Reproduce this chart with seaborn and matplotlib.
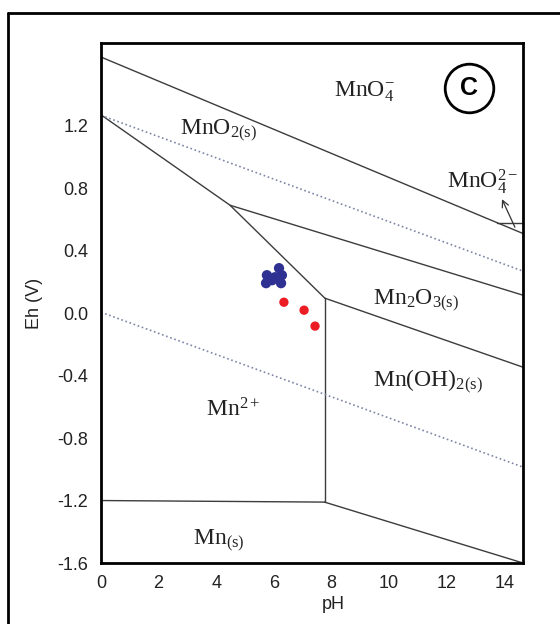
import matplotlib
matplotlib.use("Agg")
import matplotlib.pyplot as plt
from matplotlib.lines import Line2D
import pandas as pd
import seaborn as sns

# Eh-pH stability field boundaries for the Mn-O-H system (pH, Eh in volts)
mno4_mno2_ph, mno4_mno2_eh = [0.0, 14.65], [1.64, 0.51]
mno4_mno42_ph, mno4_mno42_eh = [13.75, 14.65], [0.576, 0.576]
mno2_mn2_ph, mno2_mn2_eh = [0.0, 4.48, 7.77], [1.27, 0.691, 0.096]
mno2_mn2o3_ph, mno2_mn2o3_eh = [4.48, 14.65], [0.691, 0.115]
mn2o3_mnoh2_ph, mn2o3_mnoh2_eh = [7.77, 14.65], [0.096, -0.346]
mn2_mnoh2_ph, mn2_mnoh2_eh = [7.76, 7.76], [0.096, -1.21]
mn_mn2_ph, mn_mn2_eh = [0.0, 7.76], [-1.20, -1.21]
mn_mnoh2_ph, mn_mnoh2_eh = [7.76, 14.65], [-1.21, -1.60]

# water stability limits
water_upper_ph, water_upper_eh = [0.0, 14.65], [1.267, 0.269]
water_lower_ph, water_lower_eh = [0.0, 14.65], [0.006, -0.986]

# measured samples
blue_ph = [6.18, 6.28, 5.76, 6.04, 6.25, 5.73, 5.94]
blue_eh = [0.288, 0.243, 0.243, 0.230, 0.192, 0.192, 0.211]
red_ph = [6.35, 7.05, 7.43]
red_eh = [0.070, 0.019, -0.083]

x_ticks = [0, 2, 4, 6, 8, 10, 12, 14]
y_ticks = [1.2, 0.8, 0.4, 0.0, -0.4, -0.8, -1.2, -1.6]
y_tick_labels = ["1.2", "0.8", "0.4", "0.0", "-0.4", "-0.8", "-1.2", "-1.6"]

field_labels = [
    (r"$\mathrm{MnO}_4^{-}$", 8.09, 1.386),
    (r"$\mathrm{MnO}_{\mathrm{2(s)}}$", 2.74, 1.142),
    (r"$\mathrm{MnO}_4^{2-}$", 12.0, 0.803),
    (r"$\mathrm{Mn}_{2}\mathrm{O}_{\mathrm{3(s)}}$", 9.44, 0.05),
    (r"$\mathrm{Mn(OH)}_{\mathrm{2(s)}}$", 9.44, -0.473),
    (r"$\mathrm{Mn}^{2+}$", 3.65, -0.665),
    (r"$\mathrm{Mn}_{\mathrm{(s)}}$", 3.2, -1.486),
]

sns.set_theme(style="white")
plt.rcParams["font.family"] = ["Liberation Sans", "DejaVu Sans"]
plt.rcParams["mathtext.fontset"] = "custom"
plt.rcParams["mathtext.rm"] = "Liberation Serif"
plt.rcParams["mathtext.it"] = "Liberation Serif:italic"
plt.rcParams["mathtext.bf"] = "Liberation Serif:bold"

fig = plt.figure(figsize=(5.6, 6.24), dpi=100)
ax = fig.add_axes([101 / 560, 1 - 563 / 624, 422 / 560, 520 / 624])

solid = dict(color="#3c3c3c", linewidth=1.0)
segments = [
    (mno4_mno2_ph, mno4_mno2_eh),
    (mno4_mno42_ph, mno4_mno42_eh),
    (mno2_mn2_ph, mno2_mn2_eh),
    (mno2_mn2o3_ph, mno2_mn2o3_eh),
    (mn2o3_mnoh2_ph, mn2o3_mnoh2_eh),
    (mn2_mnoh2_ph, mn2_mnoh2_eh),
    (mn_mn2_ph, mn_mn2_eh),
    (mn_mnoh2_ph, mn_mnoh2_eh),
]
for xs, ys in segments:
    sns.lineplot(x=xs, y=ys, ax=ax, sort=False, estimator=None, **solid)

for xs, ys in [(water_upper_ph, water_upper_eh), (water_lower_ph, water_lower_eh)]:
    sns.lineplot(x=xs, y=ys, ax=ax, sort=False, estimator=None,
                 color="#7f86a6", linewidth=1.2, linestyle=(0, (1, 1.6)))

blue = pd.DataFrame({"pH": blue_ph, "Eh": blue_eh})
red = pd.DataFrame({"pH": red_ph, "Eh": red_eh})
sns.scatterplot(data=blue, x="pH", y="Eh", ax=ax, color="#2e3192", s=55,
                edgecolor="none", zorder=5)
sns.scatterplot(data=red, x="pH", y="Eh", ax=ax, color="#ec1c24", s=45,
                edgecolor="none", zorder=5)

for text, px, py in field_labels:
    ax.text(px, py, text, fontsize=17, ha="left", va="baseline", color="#222222")

ax.annotate("", xy=(13.92, 0.73), xytext=(14.37, 0.55),
            arrowprops=dict(arrowstyle="->", color="#333333", lw=0.9,
                            shrinkA=0, shrinkB=0))

# panel letter in a circle
ax.plot([12.78], [1.444], marker="o", markersize=35, markerfacecolor="none",
        markeredgecolor="black", markeredgewidth=2.0, linestyle="none")
ax.text(12.78, 1.444, "C", fontsize=18, fontweight="bold", ha="center",
        va="center", color="black")

ax.set_xlim(0, 14.65)
ax.set_ylim(-1.6, 1.73)
ax.set_xticks(x_ticks)
ax.set_xticklabels([str(t) for t in x_ticks])
ax.set_yticks(y_ticks)
ax.set_yticklabels(y_tick_labels)
ax.tick_params(axis="both", labelsize=13, labelcolor="#222222", color="black",
               width=2.0, direction="out")
ax.tick_params(axis="x", length=6.5, pad=2)
ax.tick_params(axis="y", length=8, pad=1)
for spine in ax.spines.values():
    spine.set_visible(True)
    spine.set_color("black")
    spine.set_linewidth(2.0)

ax.set_xlabel("pH", fontsize=13, color="#222222")
ax.set_ylabel("Eh (V)", fontsize=13, color="#222222")
ax.xaxis.set_label_coords((333 - 101) / 422, -(596 - 563) / 520)
ax.yaxis.set_label_coords(-(101 - 43) / 422, 0.5)

# outer panel frame
top = 1 - 13 / 624
fig.add_artist(Line2D([8 / 560, 8 / 560], [0, top], color="black", lw=2.0,
                      transform=fig.transFigure))
fig.add_artist(Line2D([8 / 560, 1.0], [top, top], color="black", lw=2.0,
                      transform=fig.transFigure))

fig.savefig("out.png", dpi=100, facecolor="white")
